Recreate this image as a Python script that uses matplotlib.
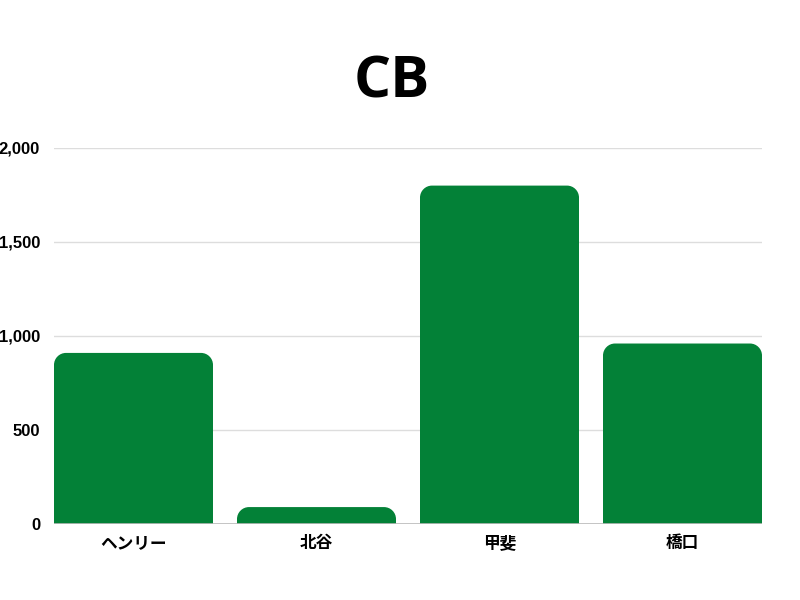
import matplotlib
matplotlib.use("Agg")
import matplotlib.pyplot as plt
from matplotlib.path import Path
from matplotlib.patches import PathPatch
from matplotlib.ticker import FuncFormatter

categories = ["ヘンリー", "北谷", "甲斐", "橋口"]
values = [910, 90, 1800, 960]
yticks = [0, 500, 1000, 1500, 2000]
title = "CB"

bar_color = "#038137"
W, H = 800, 600
fig = plt.figure(figsize=(8, 6), dpi=100)
ax_l, ax_r, ax_b, ax_t = 54, 762, 524, 148
ax = fig.add_axes([ax_l / W, 1 - ax_b / H, (ax_r - ax_l) / W, (ax_b - ax_t) / H])

width = 159 / 183
x = list(range(len(categories)))
bars = ax.bar(x, values, width=width, color="none", edgecolor="none")
ax.set_xlim(-width / 2, len(categories) - 1 + width / 2)
ax.set_ylim(0, 2000)

# rounded top corners
rpx = 12
xr = (ax.get_xlim()[1] - ax.get_xlim()[0]) / (ax_r - ax_l) * rpx
yr = 2000 / (ax_b - ax_t) * rpx
k = 0.5523
for b in bars:
    x0, y0 = b.get_x(), b.get_y()
    x1, y1 = x0 + b.get_width(), y0 + b.get_height()
    ry = min(yr, (y1 - y0))
    verts = [
        (x0, y0), (x0, y1 - ry),
        (x0, y1 - ry + k * ry), (x0 + xr - k * xr, y1), (x0 + xr, y1),
        (x1 - xr, y1),
        (x1 - xr + k * xr, y1), (x1, y1 - ry + k * ry), (x1, y1 - ry),
        (x1, y0), (x0, y0),
    ]
    codes = [Path.MOVETO, Path.LINETO,
             Path.CURVE4, Path.CURVE4, Path.CURVE4,
             Path.LINETO,
             Path.CURVE4, Path.CURVE4, Path.CURVE4,
             Path.LINETO, Path.CLOSEPOLY]
    ax.add_patch(PathPatch(Path(verts, codes), facecolor=bar_color, edgecolor="none", zorder=3))

ax.set_yticks(yticks)
ax.yaxis.set_major_formatter(FuncFormatter(lambda v, p: f"{int(v):,}"))
ax.grid(axis="y", color="#dddddd", linewidth=1, zorder=0)
ax.set_axisbelow(True)
for s in ax.spines.values():
    s.set_visible(False)
ax.axhline(0, color="#bbbbbb", linewidth=1.2, zorder=4)
ax.tick_params(axis="y", length=0, pad=10)
ax.tick_params(axis="x", length=0, pad=7)
for lab in ax.get_yticklabels():
    lab.set_fontfamily(["Liberation Sans", "DejaVu Sans"])
    lab.set_fontweight("bold")
    lab.set_fontsize(12)
ax.set_xticks(x)
ax.set_xticklabels(categories, fontfamily=["Noto Sans CJK JP", "DejaVu Sans"],
                   fontweight="bold", fontsize=12)

fig.text(392 / W, 1 - 82 / H, title, ha="center", va="center",
         fontfamily=["Open Sans", "DejaVu Sans"], fontweight="bold", fontsize=42)

fig.savefig("out.png", dpi=100, facecolor="white")
